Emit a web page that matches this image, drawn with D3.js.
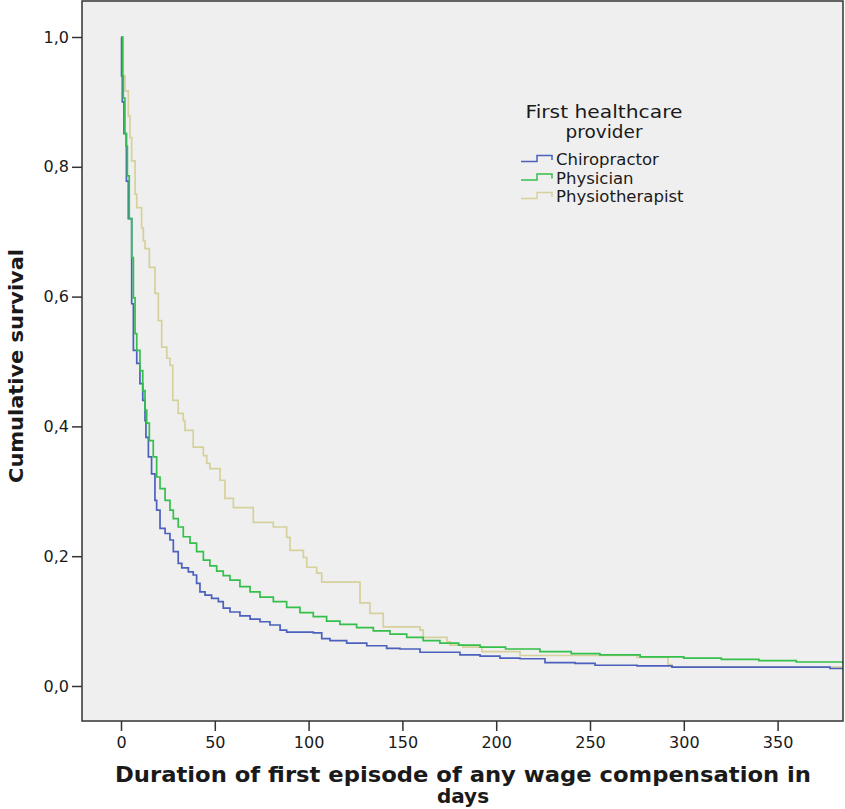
<!DOCTYPE html>
<html>
<head>
<meta charset="utf-8">
<script src="https://cdnjs.cloudflare.com/ajax/libs/d3/7.8.5/d3.min.js"></script>
<style>
  body { margin: 0; background: #fff; }
  text { font-family: "DejaVu Sans", sans-serif; fill: #1a1a1a; }
  .axis path { display: none; }
  .axis line { stroke: #333; stroke-width: 1.5; }
</style>
</head>
<body>
<script>
// survival values: [day, cumulative survival]
const chiropractor = [
  [0, 1.0], [0.3, 0.94], [0.7, 0.90], [1.6, 0.851], [2.9, 0.778], [3.9, 0.72],
  [5.7, 0.589], [6.6, 0.517], [8.4, 0.497], [10.1, 0.466], [11.6, 0.44],
  [12.8, 0.409], [13.3, 0.383], [14.6, 0.353], [16.3, 0.327], [18.1, 0.286],
  [19.0, 0.271], [20.8, 0.243], [23.5, 0.235], [26.1, 0.225], [27.9, 0.207],
  [30.5, 0.189], [32.4, 0.182], [35.9, 0.176], [38.5, 0.171], [40.3, 0.158],
  [42.1, 0.145], [44.8, 0.14], [48.3, 0.135], [51.9, 0.13], [54.5, 0.12],
  [58.1, 0.114], [63.4, 0.108], [68.8, 0.103], [74.1, 0.099], [79.4, 0.094],
  [84.8, 0.086], [88.3, 0.083], [102.5, 0.082], [107.0, 0.073], [111.4, 0.07],
  [120.3, 0.066], [131.0, 0.062], [141.6, 0.058], [148.7, 0.057], [159.4, 0.052],
  [180.7, 0.048], [191.4, 0.046], [202.0, 0.043], [212.7, 0.042], [226.0, 0.036],
  [242.0, 0.035], [252.7, 0.032], [275.1, 0.031], [293.7, 0.029], [377.9, 0.027],
  [390, 0.027]
];
const physician = [
  [0, 1.0], [0.9, 0.94], [1.2, 0.906], [2.1, 0.851], [2.7, 0.832], [3.4, 0.786],
  [4.4, 0.72], [5.7, 0.66], [6.6, 0.598], [7.5, 0.543], [8.4, 0.517],
  [10.1, 0.486], [11.6, 0.455], [12.8, 0.425], [13.7, 0.405], [15.1, 0.378],
  [17.2, 0.353], [19.0, 0.322], [20.8, 0.304], [23.5, 0.286], [26.1, 0.271],
  [27.9, 0.258], [30.5, 0.245], [33.2, 0.23], [36.8, 0.22], [40.3, 0.207],
  [43.9, 0.194], [47.4, 0.185], [51.0, 0.177], [54.5, 0.17], [58.1, 0.163],
  [63.4, 0.153], [68.8, 0.145], [74.1, 0.137], [81.2, 0.13], [88.3, 0.121],
  [95.4, 0.113], [102.5, 0.107], [109.6, 0.1], [116.7, 0.095], [125.6, 0.09],
  [134.5, 0.085], [143.4, 0.08], [152.3, 0.075], [161.1, 0.07], [170.0, 0.066],
  [180, 0.063], [191.4, 0.06], [205, 0.057], [223.3, 0.053], [240, 0.05],
  [255.3, 0.048], [276.7, 0.045], [300, 0.043], [320, 0.041], [340, 0.039],
  [360, 0.037], [384.9, 0.035], [390, 0.035]
];
const physiotherapist = [
  [0, 1.0], [1.2, 0.94], [2.1, 0.917], [3.9, 0.878], [4.8, 0.845], [5.7, 0.809],
  [7.5, 0.758], [8.4, 0.737], [11.0, 0.706], [11.9, 0.686], [12.8, 0.674],
  [15.1, 0.645], [18.1, 0.605], [19.9, 0.563], [21.7, 0.522], [24.4, 0.505],
  [26.1, 0.494], [27.6, 0.44], [30.5, 0.42], [33.2, 0.409], [34.1, 0.394],
  [38.5, 0.368], [43.9, 0.355], [45.7, 0.343], [47.4, 0.335], [52.8, 0.317],
  [55.4, 0.289], [59.9, 0.275], [70.5, 0.252], [81.2, 0.245], [88.3, 0.229],
  [90.1, 0.209], [97.2, 0.198], [99.0, 0.183], [104.3, 0.174], [107.0, 0.16],
  [127.4, 0.128], [132.7, 0.112], [139.8, 0.091], [159.4, 0.086], [161.1, 0.075],
  [173.8, 0.068], [175.4, 0.063], [182.3, 0.06], [192.4, 0.053], [212.7, 0.047],
  [275.1, 0.044], [291.6, 0.033], [293.7, 0.029], [390, 0.029]
];

const groups = ["Chiropractor", "Physician", "Physiotherapist"];
const colors = ["#4c61bd", "#35bf4b", "#d6d19c"];
const yTicks = [0, 0.2, 0.4, 0.6, 0.8, 1.0];
const xTicks = [0, 50, 100, 150, 200, 250, 300, 350];

const w = 845, h = 809;
const pLeft = 82, pTop = 1, pRight = 843, pBottom = 721;

const svg = d3.select("body").append("svg")
  .attr("width", w)
  .attr("height", h);

const x = d3.scaleLinear().domain([0, 350]).range([121, 777.6]);
const y = d3.scaleLinear().domain([0, 1]).range([686, 37]);

svg.append("rect")
  .attr("x", pLeft).attr("y", pTop)
  .attr("width", pRight - pLeft).attr("height", pBottom - pTop)
  .attr("fill", "#efefef");

svg.append("clipPath").attr("id", "clip")
  .append("rect")
  .attr("x", pLeft).attr("y", pTop)
  .attr("width", pRight - pLeft).attr("height", pBottom - pTop);

const line = d3.line()
  .x(d => x(d[0]))
  .y(d => y(d[1]))
  .curve(d3.curveStepAfter);

const series = [chiropractor, physician, physiotherapist];
// physiotherapist first so the other two sit on top of it
[2, 0, 1].forEach(i => {
  svg.append("path")
    .attr("clip-path", "url(#clip)")
    .attr("d", line(series[i]))
    .attr("fill", "none")
    .attr("stroke", colors[i])
    .attr("stroke-width", 1.7);
});

svg.append("rect")
  .attr("x", pLeft).attr("y", pTop)
  .attr("width", pRight - pLeft).attr("height", pBottom - pTop)
  .attr("fill", "none")
  .attr("stroke", "#333")
  .attr("stroke-width", 1.5);

const fmt = d => d3.format(".1f")(d).replace(".", ",");

svg.append("g")
  .attr("class", "axis")
  .attr("transform", "translate(" + pLeft + ",0)")
  .call(d3.axisLeft(y).tickValues(yTicks).tickFormat(fmt).tickSize(10).tickPadding(3))
  .selectAll("text")
  .style("font-size", "16px");

svg.append("g")
  .attr("class", "axis")
  .attr("transform", "translate(0," + pBottom + ")")
  .call(d3.axisBottom(x).tickValues(xTicks).tickSize(10).tickPadding(6))
  .selectAll("text")
  .style("font-size", "16px");

svg.append("text")
  .attr("transform", "translate(23,366) rotate(-90)")
  .attr("text-anchor", "middle")
  .attr("textLength", 234)
  .attr("lengthAdjust", "spacingAndGlyphs")
  .style("font-size", "20px")
  .style("font-weight", "bold")
  .text("Cumulative survival");

svg.append("text")
  .attr("x", 463).attr("y", 782)
  .attr("text-anchor", "middle")
  .attr("textLength", 696)
  .attr("lengthAdjust", "spacingAndGlyphs")
  .style("font-size", "21px")
  .style("font-weight", "bold")
  .text("Duration of first episode of any wage compensation in");

svg.append("text")
  .attr("x", 463).attr("y", 803)
  .attr("text-anchor", "middle")
  .style("font-size", "20px")
  .style("font-weight", "bold")
  .text("days");

// legend
const legend = svg.append("g").attr("id", "legend");
legend.append("text")
  .attr("x", 604).attr("y", 118)
  .attr("text-anchor", "middle")
  .attr("textLength", 157)
  .attr("lengthAdjust", "spacingAndGlyphs")
  .style("font-size", "18px")
  .text("First healthcare");
legend.append("text")
  .attr("x", 604).attr("y", 138)
  .attr("text-anchor", "middle")
  .attr("textLength", 77)
  .attr("lengthAdjust", "spacingAndGlyphs")
  .style("font-size", "18px")
  .text("provider");

const item = legend.selectAll(".item")
  .data(groups)
  .enter()
  .append("g")
  .attr("class", "item")
  .attr("transform", (d, i) => "translate(0," + (165 + i * 18.5) + ")");

item.append("path")
  .attr("d", "M521,-3.5 H537 V-9.5 H552 V-5")
  .attr("fill", "none")
  .attr("stroke", (d, i) => colors[i])
  .attr("stroke-width", 1.5);

item.append("text")
  .attr("x", 556).attr("y", 0)
  .style("font-size", "16.5px")
  .text(d => d);
</script>
</body>
</html>
